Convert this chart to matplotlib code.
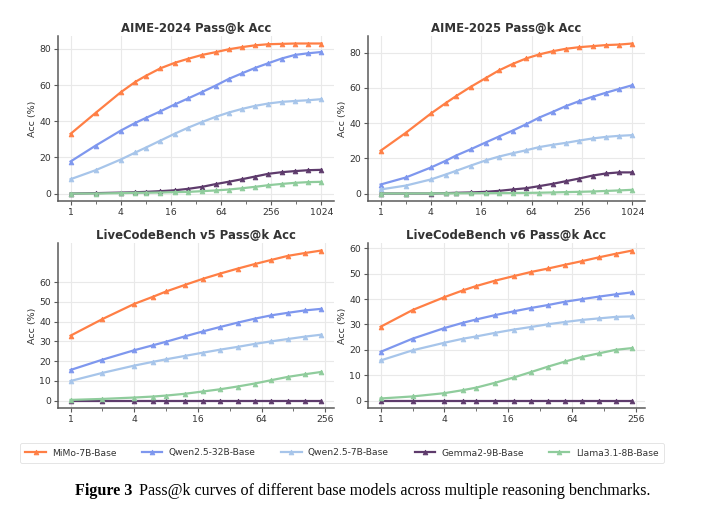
import numpy as np
import matplotlib
matplotlib.use("Agg")
import matplotlib.pyplot as plt
from matplotlib.ticker import FixedLocator, NullFormatter

# ---------------- data ----------------
k_values = [1, 2, 4, 6, 8, 12, 18, 26, 38, 55, 79, 114, 164, 236, 342, 494, 714, 1024]
k_lcb = k_values[:14]

models = ["MiMo-7B-Base", "Qwen2.5-32B-Base", "Qwen2.5-7B-Base", "Gemma2-9B-Base", "Llama3.1-8B-Base"]
colors = ["#FF7F45", "#7E97EE", "#A7C5EA", "#5E3B6C", "#8FCC9C"]

aime24_mimo = [33.0, 44.6, 56.0, 61.8, 65.1, 69.3, 72.4, 74.6, 76.7, 78.2, 79.8, 81.0, 82.0, 82.6, 82.8, 83.0, 83.0, 83.0]
aime24_qwen32 = [17.7, 26.5, 34.8, 39.1, 41.8, 45.5, 49.4, 52.7, 56.2, 59.7, 63.4, 66.5, 69.5, 72.1, 74.7, 76.7, 77.6, 78.3]
aime24_qwen7 = [7.9, 12.9, 18.8, 22.7, 25.4, 29.3, 33.2, 36.5, 39.6, 42.4, 44.8, 46.8, 48.5, 49.8, 50.7, 51.2, 51.6, 52.2]
aime24_gemma = [0.0, 0.2, 0.5, 0.7, 0.9, 1.3, 1.8, 2.6, 3.7, 5.2, 6.5, 7.9, 9.4, 10.9, 11.8, 12.4, 12.9, 13.1]
aime24_llama = [0.0, 0.0, 0.2, 0.4, 0.4, 0.55, 0.75, 0.9, 1.3, 1.7, 2.2, 2.9, 3.7, 4.6, 5.3, 5.9, 6.3, 6.45]

aime25_mimo = [24.3, 34.5, 45.5, 51.4, 55.4, 60.7, 65.6, 70.0, 73.7, 76.8, 79.1, 80.9, 82.3, 83.2, 83.8, 84.4, 84.7, 85.3]
aime25_qwen32 = [5.1, 9.1, 14.8, 18.6, 21.6, 25.2, 29.0, 32.4, 35.8, 39.4, 43.2, 46.4, 49.7, 52.5, 55.0, 57.3, 59.5, 61.6]
aime25_qwen7 = [2.3, 4.5, 8.0, 10.8, 12.9, 15.9, 18.8, 21.0, 22.9, 24.6, 26.4, 27.7, 28.8, 30.1, 31.3, 32.2, 32.8, 33.2]
aime25_gemma = [0.0, 0.0, 0.0, 0.2, 0.4, 0.6, 0.95, 1.5, 2.3, 3.0, 4.2, 5.5, 7.0, 8.5, 10.2, 11.4, 12.0, 12.0]
aime25_llama = [0.0, 0.0, 0.05, 0.1, 0.1, 0.15, 0.2, 0.25, 0.3, 0.35, 0.45, 0.6, 0.8, 0.95, 1.15, 1.45, 1.75, 2.1]

lcb5_mimo = [32.9, 41.3, 49.0, 52.6, 55.3, 58.6, 61.8, 64.4, 66.9, 69.2, 71.3, 73.4, 74.8, 76.1]
lcb5_qwen32 = [15.5, 20.7, 25.5, 28.0, 29.8, 32.5, 35.1, 37.3, 39.5, 41.5, 43.2, 44.5, 45.7, 46.5]
lcb5_qwen7 = [9.9, 14.0, 17.7, 19.6, 20.9, 22.6, 24.3, 25.8, 27.2, 28.7, 30.0, 31.2, 32.4, 33.4]
lcb5_gemma = [0.0] * 14
lcb5_llama = [0.3, 0.8, 1.5, 2.0, 2.5, 3.4, 4.6, 5.7, 7.1, 8.6, 10.3, 12.0, 13.3, 14.5]

lcb6_mimo = [29.1, 35.7, 40.8, 43.5, 45.2, 47.3, 49.1, 50.7, 52.1, 53.6, 55.0, 56.5, 57.9, 59.2]
lcb6_qwen32 = [19.2, 24.4, 28.6, 30.7, 32.0, 33.7, 35.2, 36.5, 37.7, 39.0, 40.0, 41.0, 41.9, 42.7]
lcb6_qwen7 = [15.8, 19.8, 22.8, 24.4, 25.3, 26.7, 28.0, 29.0, 30.1, 31.0, 31.8, 32.4, 33.0, 33.2]
lcb6_gemma = [0.0] * 14
lcb6_llama = [0.8, 1.6, 2.9, 4.1, 5.1, 7.0, 9.1, 11.2, 13.4, 15.4, 17.2, 18.6, 20.0, 20.7]

titles = ["AIME-2024 Pass@k Acc", "AIME-2025 Pass@k Acc",
          "LiveCodeBench v5 Pass@k Acc", "LiveCodeBench v6 Pass@k Acc"]
xticks_aime = [1, 4, 16, 64, 256, 1024]
xticks_lcb = [1, 4, 16, 64, 256]
yticks_aime = [0, 20, 40, 60, 80]
yticks_lcb = [0, 10, 20, 30, 40, 50, 60]

panels = [
    (k_values, [aime24_mimo, aime24_qwen32, aime24_qwen7, aime24_gemma, aime24_llama], xticks_aime, yticks_aime),
    (k_values, [aime25_mimo, aime25_qwen32, aime25_qwen7, aime25_gemma, aime25_llama], xticks_aime, yticks_aime),
    (k_lcb, [lcb5_mimo, lcb5_qwen32, lcb5_qwen7, lcb5_gemma, lcb5_llama], xticks_lcb, yticks_lcb),
    (k_lcb, [lcb6_mimo, lcb6_qwen32, lcb6_qwen7, lcb6_gemma, lcb6_llama], xticks_lcb, yticks_lcb),
]

# ---------------- figure ----------------
W, H = 720, 515
fig = plt.figure(figsize=(W / 100, H / 100), dpi=100)
fig.patch.set_facecolor("white")

boxes = [  # left, top, right, bottom in pixels
    (58, 36, 334, 201),
    (368, 36, 645, 201),
    (58, 243, 334, 408),
    (368, 243, 645, 408),
]

spine_c = "#5a5a5a"
text_c = "#333333"
handles = []
for i, (box, (ks, series, xt, yt)) in enumerate(zip(boxes, panels)):
    l, t, r, b = box
    ax = fig.add_axes([l / W, 1 - b / H, (r - l) / W, (b - t) / H])
    ax.set_xscale("log", base=2)
    for name, col, vals in zip(models, colors, series):
        h, = ax.plot(ks, vals, color=col, lw=1.6, marker="^", ms=3.4,
                     markeredgewidth=0.6, label=name, zorder=3)
        if i == 0:
            handles.append(h)
    ax.xaxis.set_major_locator(FixedLocator(xt))
    ax.set_xticklabels([str(v) for v in xt])
    minors = [2 ** p for p in range(1, 11) if 2 ** p not in xt]
    ax.xaxis.set_minor_locator(FixedLocator(minors))
    ax.xaxis.set_minor_formatter(NullFormatter())
    ax.set_yticks(yt)
    ax.grid(True, which="major", color="#e9e9e9", lw=0.8, zorder=0)
    ax.grid(False, which="minor")
    for s in ["top", "right"]:
        ax.spines[s].set_visible(False)
    for s in ["left", "bottom"]:
        ax.spines[s].set_color(spine_c)
        ax.spines[s].set_linewidth(1.1)
    ax.tick_params(axis="both", which="major", labelsize=6.7, colors=spine_c,
                   labelcolor=text_c, length=3, width=0.8, pad=2)
    ax.tick_params(axis="x", which="minor", colors=spine_c, length=2, width=0.6)
    ax.set_ylabel("Acc (%)", fontsize=6.8, color=text_c, labelpad=2)
    ax.set_title(titles[i], fontsize=8.4, fontweight="bold", color=text_c, pad=3)

leg = fig.legend(handles=handles, labels=models, loc="center",
                 bbox_to_anchor=(342 / W, 1 - 453 / H), ncol=5, fontsize=6.6,
                 frameon=True, handlelength=2.2, handletextpad=0.7,
                 columnspacing=2.8, borderpad=0.6, fancybox=True)
leg.get_frame().set_edgecolor("#d9d9d9")
leg.get_frame().set_linewidth(0.6)
for txt in leg.get_texts():
    txt.set_color(text_c)

# caption
cap_y = 1 - 491 / H
t1 = fig.text(75 / W, cap_y, "Figure 3", fontsize=11.6, fontweight="bold",
              family="Liberation Serif", va="center", ha="left", color="black")
fig.canvas.draw()
bb = t1.get_window_extent()
fig.text((bb.x1 + 7) / W, cap_y,
         "Pass@k curves of different base models across multiple reasoning benchmarks.",
         fontsize=11.6, family="Liberation Serif", va="center", ha="left", color="black")

fig.savefig("out.png", dpi=100)
